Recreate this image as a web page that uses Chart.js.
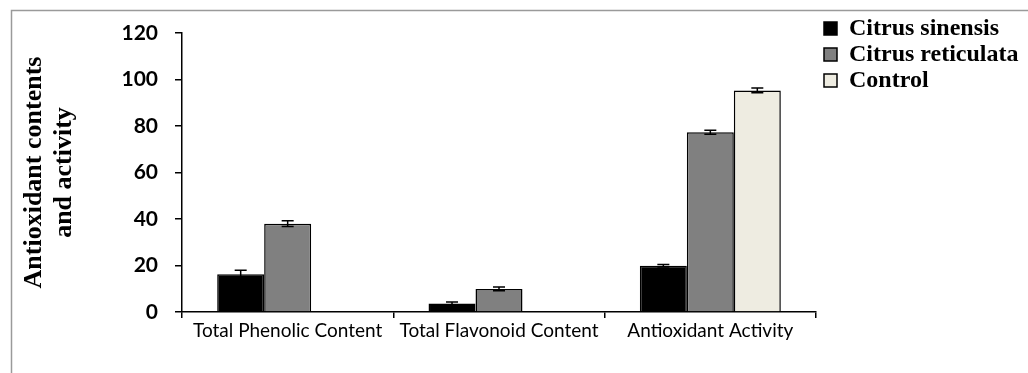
<!DOCTYPE html>
<html>
<head>
<meta charset="utf-8">
<script src="https://cdn.jsdelivr.net/npm/chart.js@4/dist/chart.umd.min.js"></script>
<style>
  html, body { margin: 0; padding: 0; background: #fff; }
  canvas { display: block; }
</style>
</head>
<body>
<canvas id="chart" width="1028" height="373"></canvas>
<script>
// Categories and measured values (mean ± error)
const categories = ['Total Phenolic Content', 'Total Flavonoid Content', 'Antioxidant Activity'];
const sinensisValues = [16.2, 3.7, 19.9];
const sinensisErrors = [1.8, 0.6, 0.5];
const reticulataValues = [38.0, 9.9, 77.3];
const reticulataErrors = [1.2, 0.8, 0.9];
const controlValues = [null, null, 95.3];
const controlErrors = [null, null, 1.0];
const yTicks = [0, 20, 40, 60, 80, 100, 120];

// Thin grey frame along the top and left edges
const frame = {
  id: 'frame',
  beforeDraw(chart) {
    const { ctx, width, height } = chart;
    ctx.save();
    ctx.strokeStyle = '#9a9a9a';
    ctx.lineWidth = 1.5;
    ctx.beginPath();
    ctx.moveTo(11.5, height);
    ctx.lineTo(11.5, 10.5);
    ctx.lineTo(width, 10.5);
    ctx.stroke();
    ctx.restore();
  }
};

// Error bars with caps, drawn from each dataset's errors array
const errorBars = {
  id: 'errorBars',
  afterDatasetsDraw(chart) {
    const { ctx } = chart;
    const y = chart.scales.y;
    chart.data.datasets.forEach((ds, i) => {
      const meta = chart.getDatasetMeta(i);
      meta.data.forEach((bar, j) => {
        const v = ds.data[j];
        const e = ds.errors[j];
        if (v == null || e == null) return;
        const top = y.getPixelForValue(v + e);
        const bot = y.getPixelForValue(v - e);
        const cap = 6;
        ctx.save();
        ctx.strokeStyle = '#000';
        ctx.lineWidth = 1.5;
        ctx.beginPath();
        ctx.moveTo(bar.x, top); ctx.lineTo(bar.x, bot);
        ctx.moveTo(bar.x - cap, top); ctx.lineTo(bar.x + cap, top);
        ctx.moveTo(bar.x - cap, bot); ctx.lineTo(bar.x + cap, bot);
        ctx.stroke();
        ctx.restore();
      });
    });
  }
};

// Legend sits in the top-right corner, just right of the plot area
const legendPlacement = {
  id: 'legendPlacement',
  afterLayout(chart) {
    const lg = chart.legend;
    lg.left = chart.chartArea.right + 6;
    lg.right = chart.width;
    lg.width = lg.right - lg.left;
    lg.top = 14.5;
  }
};

new Chart(document.getElementById('chart'), {
  type: 'bar',
  data: {
    labels: categories,
    datasets: [
      { label: 'Citrus sinensis', data: sinensisValues, errors: sinensisErrors,
        backgroundColor: '#000000', borderColor: '#000000', borderWidth: 1.5 },
      { label: 'Citrus reticulata', data: reticulataValues, errors: reticulataErrors,
        backgroundColor: '#808080', borderColor: '#000000', borderWidth: 1.5 },
      { label: 'Control', data: controlValues, errors: controlErrors,
        backgroundColor: '#EEECE1', borderColor: '#000000', borderWidth: 1.5 }
    ]
  },
  options: {
    responsive: false,
    animation: false,
    events: [],
    barPercentage: 1.0,
    categoryPercentage: 0.667,
    layout: { padding: { left: 19, top: 33, right: 32, bottom: 0 } },
    plugins: {
      tooltip: { enabled: false },
      legend: {
        position: 'right',
        align: 'start',
        maxWidth: 180,
        labels: {
          boxWidth: 13,
          boxHeight: 13,
          padding: 2,
          color: '#000',
          font: { family: '"Liberation Serif", "Times New Roman", serif', size: 24, weight: 'bold' }
        }
      }
    },
    scales: {
      x: {
        offset: true,
        grid: { offset: true, drawOnChartArea: false, tickLength: 6, color: '#000', lineWidth: 1.5 },
        border: { color: '#000', width: 1.5 },
        ticks: {
          color: '#000',
          padding: 1,
          maxRotation: 0,
          font: { family: 'Lato, "Open Sans", sans-serif', size: 19 }
        },
        afterFit(s) { s.height = 61; }
      },
      y: {
        min: 0,
        max: 120,
        afterBuildTicks(s) { s.ticks = yTicks.map(v => ({ value: v })); },
        grid: { drawOnChartArea: false, tickLength: 7, color: '#000', lineWidth: 1.5 },
        border: { color: '#000', width: 1.5 },
        ticks: {
          color: '#000',
          padding: 17,
          font: { family: 'Lato, "Open Sans", sans-serif', size: 21, weight: 'bold' }
        },
        title: {
          display: true,
          text: ['Antioxidant contents', 'and activity'],
          color: '#000',
          padding: 0,
          font: { family: '"Liberation Serif", "Times New Roman", serif', size: 26, weight: 'bold', lineHeight: 30 / 26 }
        },
        afterFit(s) { s.width = 163; }
      }
    }
  },
  plugins: [frame, errorBars, legendPlacement]
});
</script>
</body>
</html>
